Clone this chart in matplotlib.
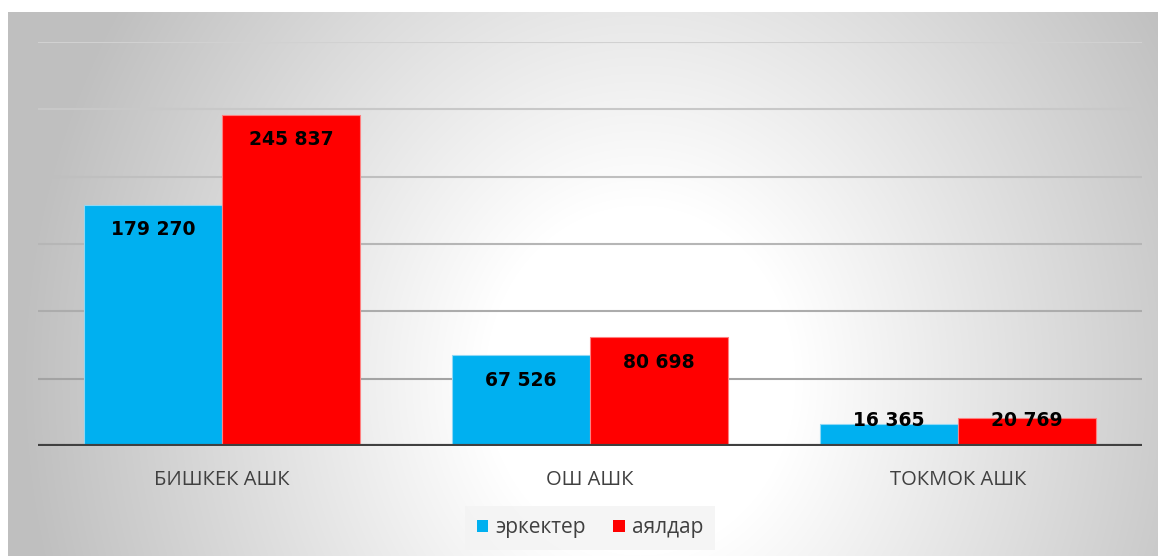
import numpy as np
import matplotlib
matplotlib.use("Agg")
import matplotlib.pyplot as plt
from matplotlib.patches import Patch

categories = ["БИШКЕК АШК", "ОШ АШК", "ТОКМОК АШК"]
series_names = ["эркектер", "аялдар"]
men = [179270, 67526, 16365]
women = [245837, 80698, 20769]
value_labels_men = ["179 270", "67 526", "16 365"]
value_labels_women = ["245 837", "80 698", "20 769"]
colors = ["#00B0F0", "#FF0000"]

W, H = 1158, 558
fig = plt.figure(figsize=(W / 100, H / 100), dpi=100)
fig.patch.set_facecolor("white")

# Background panel with radial gradient
px0, py0, px1, py1 = 8, 12, 1158, 556
bg = fig.add_axes([px0 / W, 1 - py1 / H, (px1 - px0) / W, (py1 - py0) / H])
xs = np.arange(px0, px1)
ys = np.arange(py0, py1)
X, Y = np.meshgrid(xs, ys)
cx, cy, ax_, ay_ = 640, 380, 620, 700
r = np.sqrt(((X - cx) / ax_) ** 2 + ((Y - cy) / ay_) ** 2)
t = np.clip((r - 0.25) / 0.75, 0, 1)
v = 1.0 - 0.25 * t
img = np.dstack([v, v, v])
bg.imshow(np.clip(img, 0, 1), aspect="auto", interpolation="bilinear")
bg.set_axis_off()
bg.set_zorder(0)

# Main axes
left, top, right, bottom = 38, 42, 1142, 446
ax = fig.add_axes([left / W, 1 - bottom / H, (right - left) / W, (bottom - top) / H])
ax.set_zorder(1)
ax.patch.set_alpha(0)

x = np.arange(len(categories))
bw = 0.375
b1 = ax.bar(x - bw / 2, men, bw, color=colors[0], edgecolor="#8fd8f5", linewidth=0.8, zorder=3)
b2 = ax.bar(x + bw / 2, women, bw, color=colors[1], edgecolor="#ff8080", linewidth=0.8, zorder=3)

ax.set_xlim(-0.5, 2.5)
ax.set_ylim(0, 300000)
grid_vals = np.arange(50000, 300001, 50000)
for i, gv in enumerate(grid_vals):
    f = i / (len(grid_vals) - 1)
    c = 0.64 + 0.18 * f
    ax.axhline(gv, color=(c, c, c), linewidth=1.5, zorder=1)
ax.set_yticks([])
ax.tick_params(axis="x", bottom=False, labelsize=14.5, labelcolor="#404040", pad=14)
ax.set_xticks(x)
ax.set_xticklabels(categories, fontfamily="Open Sans")
for s in ax.spines.values():
    s.set_visible(False)
ax.axhline(0, color="#404040", linewidth=3, zorder=4)

off = 18600
for bars, labs, vals in [(b1, value_labels_men, men), (b2, value_labels_women, women)]:
    for bar, lab, val in zip(bars, labs, vals):
        yy = max(val - off, off)
        ax.text(bar.get_x() + bar.get_width() / 2, yy, lab, ha="center", va="center",
                fontsize=13.5, fontweight="bold", color="black", zorder=5,
                fontfamily="DejaVu Sans")

handles = [Patch(facecolor=colors[0], edgecolor="none"), Patch(facecolor=colors[1], edgecolor="none")]
leg = fig.legend(handles, series_names, loc="center", bbox_to_anchor=(590 / W, 1 - 528 / H),
                 ncol=2, frameon=True, handlelength=0.55, handleheight=0.55,
                 handletextpad=0.35, columnspacing=1.3, borderpad=0.55,
                 prop={"family": "Open Sans", "size": 15})
leg.get_frame().set_facecolor("#f3f3f3")
leg.get_frame().set_edgecolor("none")
leg.get_frame().set_boxstyle("square", pad=0)
for t_ in leg.get_texts():
    t_.set_color("#404040")

fig.savefig("out.png", dpi=100)
